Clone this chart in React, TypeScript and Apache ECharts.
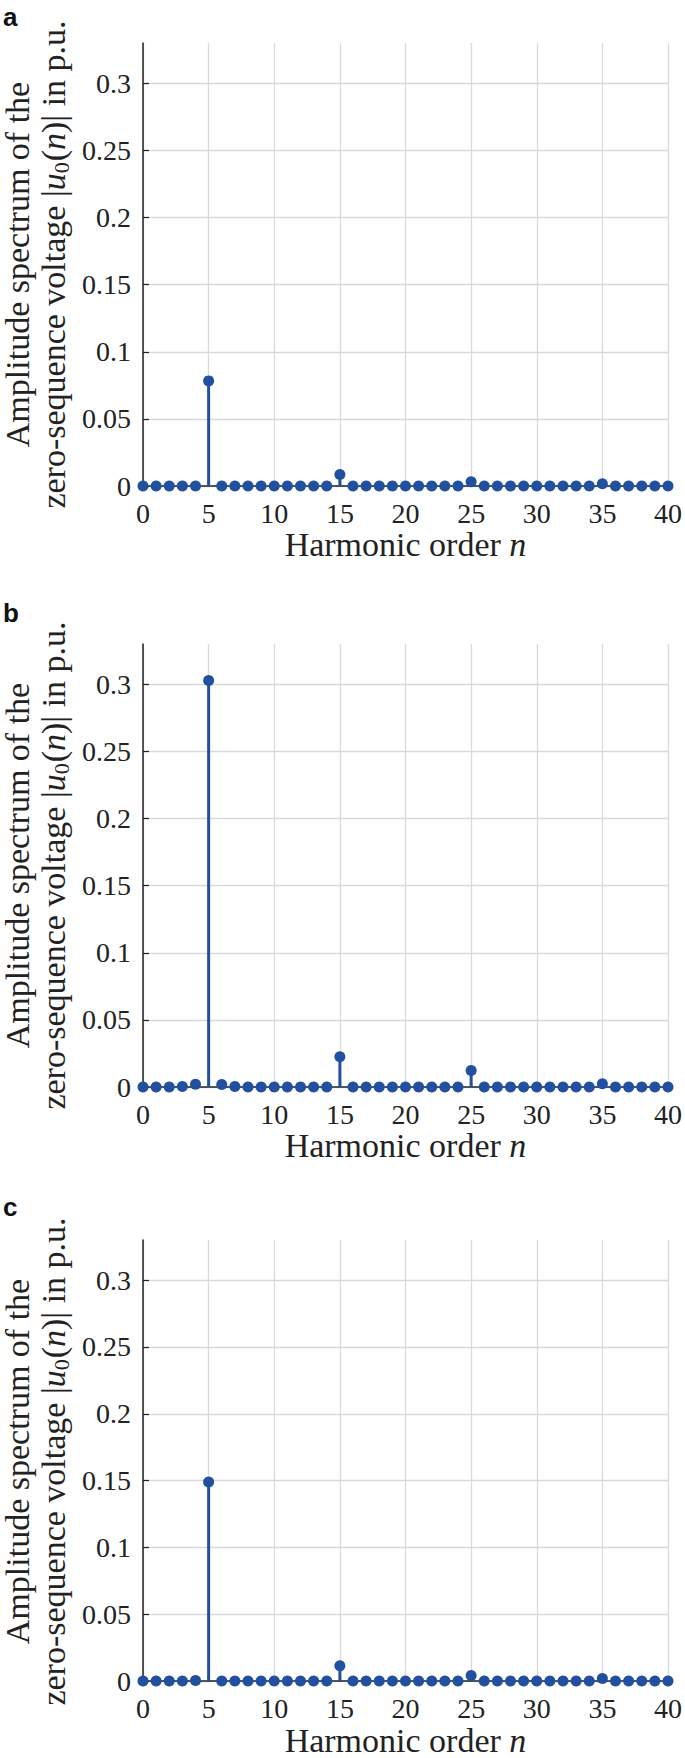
import React, { useEffect, useRef } from "react";
import * as echarts from "echarts";

// Harmonic orders n = 0 … 40
const harmonicOrders = [
  0, 1, 2, 3, 4, 5, 6, 7, 8, 9, 10, 11, 12, 13, 14, 15, 16, 17, 18, 19, 20,
  21, 22, 23, 24, 25, 26, 27, 28, 29, 30, 31, 32, 33, 34, 35, 36, 37, 38, 39, 40,
];

// Panel a amplitudes |u0(n)| in p.u.
const amplitudeA = [
  0, 0, 0, 0, 0, 0.0783, 0, 0, 0, 0, 0, 0, 0, 0, 0, 0.0085, 0, 0, 0, 0, 0,
  0, 0, 0, 0, 0.0032, 0, 0, 0, 0, 0, 0, 0, 0, 0, 0.0016, 0, 0, 0, 0, 0,
];

// Panel b amplitudes
const amplitudeB = [
  0, 0, 0, 0.0003, 0.002, 0.3028, 0.0018, 0.0003, 0, 0, 0, 0, 0, 0, 0, 0.0225, 0, 0, 0, 0, 0,
  0, 0, 0, 0, 0.0123, 0, 0, 0, 0, 0, 0, 0, 0, 0, 0.0025, 0, 0, 0, 0, 0,
];

// Panel c amplitudes
const amplitudeC = [
  0, 0, 0, 0, 0.0004, 0.149, 0, 0, 0, 0, 0, 0, 0, 0, 0, 0.0114, 0, 0, 0, 0, 0,
  0, 0, 0, 0, 0.0042, 0, 0, 0, 0, 0, 0, 0, 0, 0, 0.002, 0, 0, 0, 0, 0,
];

const panelLetters = ["a", "b", "c"];
const yTickValues = [0, 0.05, 0.1, 0.15, 0.2, 0.25, 0.3];
const xTickValues = [0, 5, 10, 15, 20, 25, 30, 35, 40];
const xAxisName = "Harmonic order ";
const xAxisVar = "n";
const yNameLine1 = "Amplitude spectrum of the";

const BLUE = "#2150a0";
const INK = "#222222";
const GRID = "#d9d9d9";
const SERIF = "Liberation Serif";
const SANS = "Liberation Sans";

const panelTops = [43, 644, 1240];
const letterY = [17, 613, 1207];
const PLOT_LEFT = 143;
const PLOT_W = 528;
const PLOT_H = 443;

export default function App() {
  const ref = useRef<HTMLDivElement>(null);

  useEffect(() => {
    if (!ref.current) return;
    const chart = echarts.init(ref.current, undefined, { renderer: "svg" });
    const datasets = [amplitudeA, amplitudeB, amplitudeC];

    const grid = panelTops.map((top) => ({
      left: PLOT_LEFT,
      top,
      width: PLOT_W,
      height: PLOT_H,
    }));

    const xAxis = panelTops.map((_, i) => ({
      gridIndex: i,
      type: "value",
      min: 0,
      max: 40,
      interval: 5,
      axisLine: { show: true, onZero: false, lineStyle: { color: INK, width: 1.5 } },
      axisTick: { show: true, inside: true, length: 5, customValues: xTickValues, lineStyle: { color: INK, width: 1.2 } },
      axisLabel: {
        margin: 13,
        fontFamily: SERIF,
        fontSize: 28,
        color: INK,
        customValues: xTickValues,
      },
      splitLine: { show: true, lineStyle: { color: GRID, width: 1.3 } },
      name: `{r|${xAxisName}}{i|${xAxisVar}}`,
      nameLocation: "middle",
      nameGap: 41,
      nameTextStyle: {
        fontFamily: SERIF,
        fontSize: 34,
        rich: {
          r: { fontFamily: SERIF, fontSize: 34, color: INK },
          i: { fontFamily: SERIF, fontSize: 34, fontStyle: "italic", color: INK },
        },
      },
    }));

    const yAxis = panelTops.map((_, i) => ({
      gridIndex: i,
      type: "value",
      min: 0,
      max: 0.33,
      interval: 0.05,
      axisLine: { show: true, onZero: false, lineStyle: { color: INK, width: 1.5 } },
      axisTick: { show: true, inside: true, length: 6, customValues: yTickValues, lineStyle: { color: INK, width: 1.2 } },
      axisLabel: {
        margin: 12,
        fontFamily: SERIF,
        fontSize: 28,
        color: INK,
        customValues: yTickValues,
      },
      splitLine: { show: true, lineStyle: { color: GRID, width: 1.3 } },
    }));

    const series: any[] = [];
    datasets.forEach((vals, i) => {
      const data = harmonicOrders.map((n, k) => [n, vals[k]]);
      series.push({
        type: "custom",
        xAxisIndex: i,
        yAxisIndex: i,
        data,
        clip: false,
        z: 3,
        renderItem: (_params: any, api: any) => {
          const p0 = api.coord([api.value(0), 0]);
          const p1 = api.coord([api.value(0), api.value(1)]);
          return {
            type: "line",
            shape: { x1: p0[0], y1: p0[1], x2: p1[0], y2: p1[1] },
            style: { stroke: BLUE, lineWidth: 3 },
          };
        },
      });
      series.push({
        type: "scatter",
        xAxisIndex: i,
        yAxisIndex: i,
        data,
        symbol: "circle",
        symbolSize: 11,
        clip: false,
        z: 4,
        itemStyle: { color: BLUE, opacity: 1 },
      });
    });

    const graphic: any[] = [];
    panelTops.forEach((top, i) => {
      const cy = top + PLOT_H / 2;
      graphic.push({
        type: "text",
        x: 3,
        y: letterY[i],
        style: {
          text: panelLetters[i],
          fontFamily: SANS,
          fontWeight: "bold",
          fontSize: 26,
          fill: "#111",
          textAlign: "left",
          align: "left",
          textVerticalAlign: "middle",
          verticalAlign: "middle",
        },
      });
      graphic.push({
        type: "text",
        x: 17,
        y: cy,
        rotation: Math.PI / 2,
        style: {
          text: yNameLine1,
          fontFamily: SERIF,
          fontSize: 34,
          fill: INK,
          textAlign: "center",
          align: "center",
          textVerticalAlign: "middle",
          verticalAlign: "middle",
        },
      });
      graphic.push({
        type: "text",
        x: 53,
        y: cy,
        rotation: Math.PI / 2,
        style: {
          text: "{r|zero-sequence voltage |}{i|u}{s|0}{r|(}{i|n}{r|)| in p.u.}",
          fontFamily: SERIF,
          fontSize: 34,
          fill: INK,
          textAlign: "center",
          align: "center",
          textVerticalAlign: "middle",
          verticalAlign: "middle",
          rich: {
            r: { fontFamily: SERIF, fontSize: 34, fill: INK, color: INK, verticalAlign: "top", lineHeight: 34 },
            i: { fontFamily: SERIF, fontSize: 34, fontStyle: "italic", fill: INK, color: INK, verticalAlign: "top", lineHeight: 34 },
            s: { fontFamily: SERIF, fontSize: 22, fill: INK, color: INK, verticalAlign: "top", lineHeight: 22, padding: [14, 1, 0, 0] },
          },
        },
      });
    });

    chart.setOption({
      animation: false,
      backgroundColor: "#ffffff",
      grid,
      xAxis,
      yAxis,
      series,
      graphic,
    });

    return () => chart.dispose();
  }, []);

  return (
    <div
      ref={ref}
      style={{ position: "absolute", left: 0, top: 0, width: 685, height: 1758, background: "#fff" }}
    />
  );
}
